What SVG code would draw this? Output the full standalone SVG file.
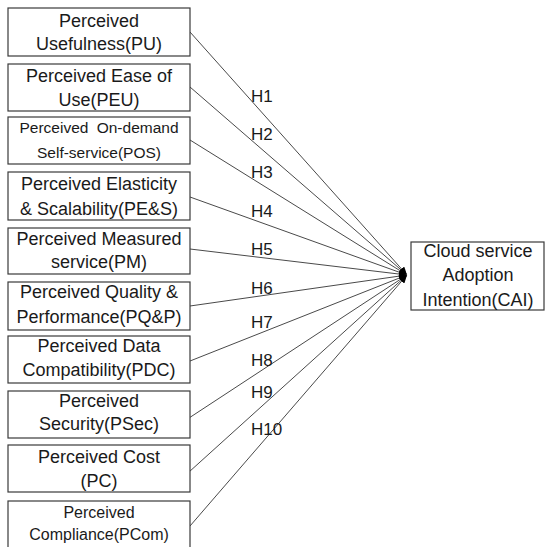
<svg xmlns="http://www.w3.org/2000/svg" width="545" height="547" viewBox="0 0 545 547">
<style>
.box{fill:#fff;stroke:#3a3a3a;stroke-width:1.2}
.t{font-family:"Liberation Sans",Arial,sans-serif;font-size:18px;fill:#1a1a1a;text-anchor:middle}
.s15{font-size:15.5px}
.s16{font-size:16px}
.c{stroke:#4a4a4a;stroke-width:1;fill:none;marker-end:url(#ah)}
.h{font-family:"Liberation Sans",Arial,sans-serif;font-size:17px;fill:#1a1a1a}
</style>
<defs>
<marker id="ah" markerUnits="userSpaceOnUse" markerWidth="9" markerHeight="7" refX="8" refY="3.5" orient="auto">
<path d="M0,0 L8,3.5 L0,7 z" fill="#000"/>
</marker>
</defs>
<rect width="545" height="547" fill="#fff"/>
<g id="connectors">
<line class="c" x1="190" y1="32" x2="407" y2="275"/>
<line class="c" x1="190" y1="87" x2="407" y2="275"/>
<line class="c" x1="190" y1="140" x2="407" y2="275"/>
<line class="c" x1="190" y1="197" x2="407" y2="275"/>
<line class="c" x1="190" y1="249" x2="407" y2="275"/>
<line class="c" x1="190" y1="306" x2="407" y2="275"/>
<line class="c" x1="190" y1="361" x2="407" y2="275"/>
<line class="c" x1="189" y1="418" x2="407" y2="275"/>
<line class="c" x1="189" y1="472" x2="407" y2="275"/>
<line class="c" x1="190" y1="526" x2="407" y2="275"/>
<text class="h" x="251" y="102">H1</text>
<text class="h" x="251" y="140">H2</text>
<text class="h" x="251" y="178">H3</text>
<text class="h" x="251" y="217">H4</text>
<text class="h" x="251" y="255">H5</text>
<text class="h" x="251" y="294">H6</text>
<text class="h" x="251" y="328">H7</text>
<text class="h" x="251" y="366">H8</text>
<text class="h" x="251" y="398">H9</text>
<text class="h" x="251" y="435">H10</text>
</g>
<g id="PU"><rect class="box" x="8" y="8" width="182" height="48"/><text class="t" x="99" y="27">Perceived</text><text class="t" x="99" y="50">Usefulness(PU)</text></g>
<g id="PEU"><rect class="box" x="8" y="64" width="182" height="47"/><text class="t" x="99" y="82">Perceived Ease of</text><text class="t" x="99" y="106">Use(PEU)</text></g>
<g id="POS"><rect class="box" x="8" y="117" width="182" height="47"/><text class="t s15" x="99" y="133" word-spacing="4">Perceived On-demand</text><text class="t s15" x="99" y="158">Self-service(POS)</text></g>
<g id="PES"><rect class="box" x="8" y="172" width="182" height="48"/><text class="t" x="99" y="190">Perceived Elasticity</text><text class="t" x="99" y="215">&amp; Scalability(PE&amp;S)</text></g>
<g id="PM"><rect class="box" x="8" y="228" width="182" height="46"/><text class="t" x="99" y="245">Perceived Measured</text><text class="t" x="99" y="268">service(PM)</text></g>
<g id="PQP"><rect class="box" x="8" y="282" width="182" height="48"/><text class="t" x="99" y="298">Perceived Quality &amp;</text><text class="t" x="99" y="323">Performance(PQ&amp;P)</text></g>
<g id="PDC"><rect class="box" x="8" y="336" width="182" height="47"/><text class="t" x="99" y="352">Perceived Data</text><text class="t" x="99" y="376">Compatibility(PDC)</text></g>
<g id="PSec"><rect class="box" x="8" y="391" width="182" height="47"/><text class="t" x="99" y="407">Perceived</text><text class="t" x="99" y="430">Security(PSec)</text></g>
<g id="PC"><rect class="box" x="8" y="445" width="182" height="47"/><text class="t" x="99" y="463">Perceived Cost</text><text class="t" x="99" y="487">(PC)</text></g>
<g id="PCom"><rect class="box" x="8" y="501" width="182" height="50"/><text class="t s16" x="99" y="518">Perceived</text><text class="t s16" x="99" y="540">Compliance(PCom)</text></g>
<g id="CAI"><rect class="box" x="411" y="242" width="133" height="68"/><text class="t" x="478" y="257">Cloud service</text><text class="t" x="478" y="281">Adoption</text><text class="t" x="478" y="306">Intention(CAI)</text></g>
</svg>
